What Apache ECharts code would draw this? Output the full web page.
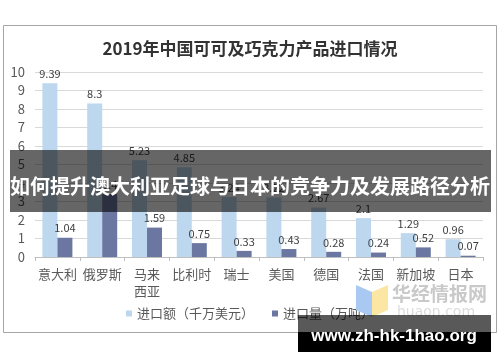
<!DOCTYPE html>
<html><head><meta charset="utf-8">
<script src="https://cdn.jsdelivr.net/npm/echarts@6/dist/echarts.min.js"></script>
<style>html,body{margin:0;padding:0;background:#fff}#c{width:500px;height:362px}</style>
</head><body><div id="c"></div>
<script>
const categories = ['意大利','俄罗斯','马来\n西亚','比利时','瑞士','美国','德国','法国','新加坡','日本'];
const importValue = [9.39, 8.3, 5.23, 4.85, 3.24, 3.22, 2.67, 2.1, 1.29, 0.96];
const importVolume = [1.04, 3.4, 1.59, 0.75, 0.33, 0.43, 0.28, 0.24, 0.52, 0.07];
const seriesNames = ['进口额（千万美元）','进口量（万吨）'];
const yTicks = [0,1,2,3,4,5,6,7,8,9,10];
const titleText = '2019年中国可可及巧克力产品进口情况';
const bannerText = '如何提升澳大利亚足球与日本的竞争力及发展路径分析';
const siteText = 'www.zh-hk-1hao.org';

const FONT = '"Noto Sans CJK SC", "Liberation Sans", sans-serif';
const chart = echarts.init(document.getElementById('c'), null, {renderer:'canvas'});
chart.setOption({
  animation:false,
  textStyle:{fontFamily:FONT},
  title:{text:titleText,left:'center',top:35,
    textStyle:{fontSize:17,fontWeight:'bold',color:'#333',fontFamily:FONT}},
  grid:{left:35,right:17,top:72,bottom:105},
  legend:{bottom:37,left:'center',itemWidth:6,itemHeight:6,itemGap:18,
    icon:'rect',textStyle:{fontSize:13,color:'#595959'},data:seriesNames},
  xAxis:{type:'category',data:categories,
    axisLine:{lineStyle:{color:'#bfbfbf'}},
    axisTick:{show:true,length:4,lineStyle:{color:'#bfbfbf'}},
    axisLabel:{fontSize:13,color:'#595959',margin:9,lineHeight:17,interval:0}},
  yAxis:{type:'value',min:yTicks[0],max:yTicks[yTicks.length-1],interval:1,
    axisLine:{show:false},axisTick:{show:false},
    axisLabel:{fontSize:13,color:'#595959',margin:10},
    splitLine:{lineStyle:{color:'#d9d9d9'}}},
  series:[
    {name:seriesNames[0],type:'bar',data:importValue,barWidth:15,barGap:'0%',
      itemStyle:{color:'#bdd7ee'},
      label:{show:true,position:'top',fontSize:11,color:'#404040',distance:4}},
    {name:seriesNames[1],type:'bar',data:importVolume,barWidth:15,
      itemStyle:{color:'#6b77a0'},
      label:{show:true,position:'top',fontSize:11,color:'#404040',distance:4}}
  ],
  graphic:[
    {type:'rect',z:-1,shape:{x:3.5,y:25.5,width:493,height:307},
      style:{fill:'none',stroke:'#a6a6a6',lineWidth:1}},
    {type:'polygon',z:50,shape:{points:[[356,285],[372,292],[372,317],[356,310]]},style:{fill:'#a9c8f2'}},
    {type:'polygon',z:50,shape:{points:[[372,292],[388,285],[388,310],[372,317]]},style:{fill:'#fbe7a3'}},
    {type:'text',z:50,style:{text:'华经情报网',x:392,y:294,fill:'#c9c9c9',
      font:'bold 19px "Noto Sans CJK SC"',textVerticalAlign:'middle'}},
    {type:'text',z:50,style:{text:'huaon.com',x:436,y:312,fill:'#dcdcdc',
      font:'14px "DejaVu Sans"',textAlign:'center',textVerticalAlign:'middle',letterSpacing:3}},
    {type:'rect',z:60,shape:{x:10,y:150,width:481,height:62},style:{fill:'rgba(0,0,0,0.6)'}},
    {type:'text',z:61,style:{text:bannerText,x:250,y:186,fill:'#fff',
      font:'bold 20px "Noto Sans CJK SC"',textAlign:'center',textVerticalAlign:'middle'}},
    {type:'rect',z:60,shape:{x:298,y:315,width:193,height:17},style:{fill:'rgba(0,0,0,0.65)'}},
    {type:'rect',z:60,shape:{x:298,y:332,width:193,height:20},style:{fill:'#000'}},
    {type:'text',z:61,style:{text:siteText,x:394,y:336,fill:'#fff',
      font:'bold 17px "Liberation Sans"',textAlign:'center',textVerticalAlign:'middle'}}
  ]
});
</script></body></html>
